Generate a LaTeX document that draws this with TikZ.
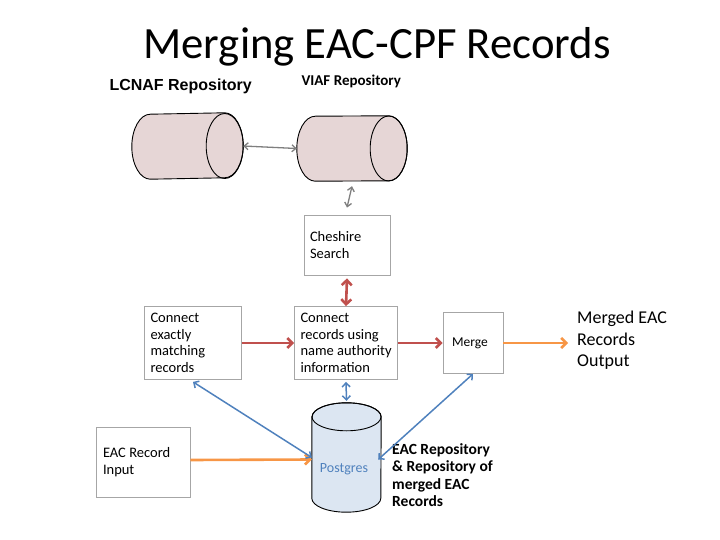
\documentclass[tikz,border=0pt]{standalone}
\usepackage{fontspec}
\setmainfont{Carlito}
\newfontfamily\arialfont{Liberation Sans}
\usetikzlibrary{arrows.meta}
\definecolor{redc}{HTML}{C0504D}
\definecolor{bluec}{HTML}{4F81BD}
\definecolor{orangec}{HTML}{F79646}
\definecolor{grayc}{HTML}{7F7F7F}
\definecolor{pinkfill}{HTML}{E6D6D6}
\definecolor{bluefill}{HTML}{DCE6F2}
\definecolor{boxline}{HTML}{A6A6A6}
\begin{document}
\begin{tikzpicture}[x=1pt,y=-1pt]
      \tikzset{mybox/.style={draw=boxline,fill=white,line width=0.8pt,align=left,inner sep=0pt,text width=#1},
        mybox/.default=70pt,
        cylbody/.style={inner sep=0pt,minimum width=#1},
        cylline/.style={draw=black,line width=0.9pt},
        grayline/.style={grayc,line width=1.3pt,{Straight Barb[length=4pt,width=7pt]}-{Straight Barb[length=4pt,width=7pt]}},
        redline/.style={redc,line width=2.6pt},
        blueline/.style={bluec,line width=1.5pt},
        orangeline/.style={orangec,line width=2.6pt,-{Straight Barb[length=5pt,width=10pt]}}}
      \def\boxfont{\fontsize{14.5}{16.5}\selectfont}
      \def\hrx{18.5pt}
      \def\hry{32.5pt}
      \def\vrx{34.5pt}
      \def\vry{14pt}
      \path[use as bounding box] (0,0) rectangle (720,540);
      % title and repository labels
      \node (title) at (377,47) {\fontsize{44.7}{50}\selectfont Merging EAC-CPF Records};
      \node[anchor=west] (lcnaflabel) at (106,86) {\arialfont\bfseries\fontsize{16}{18}\selectfont LCNAF Repository};
      \node[anchor=west] (viaflabel) at (298,81) {\bfseries\fontsize{15}{18}\selectfont VIAF Repository};
      % repositories
      \node[cylbody=111pt,minimum height=66pt] (lcnaf) at (187.5,146) {};
      \node[cylbody=110pt,minimum height=65pt] (viaf) at (352,148.5) {};
      \foreach \c in {lcnaf,viaf} {
        \filldraw[cylline,fill=pinkfill] ([xshift=-\hrx]\c.north east) arc[start angle=90,end angle=-90,x radius=\hrx,y radius=\hry]
          -- ([xshift=\hrx]\c.south west) arc[start angle=270,end angle=90,x radius=\hrx,y radius=\hry] -- cycle;
        \draw[cylline] ([xshift=-\hrx]\c.east) ellipse[x radius=\hrx,y radius=\hry];
      }
      \node[cylbody=69pt,minimum height=109pt] (pg) at (346.5,457.5) {};
      \filldraw[cylline,fill=bluefill] ([yshift=-\vry]pg.north west) -- ([yshift=\vry]pg.south west)
        arc[start angle=180,end angle=360,x radius=\vrx,y radius=\vry] -- ([yshift=-\vry]pg.north east)
        arc[start angle=0,end angle=180,x radius=\vrx,y radius=\vry] -- cycle;
      \draw[cylline] ([yshift=-\vry]pg.north) ellipse[x radius=\vrx,y radius=\vry];
      \node[text=bluec,font=\fontsize{14}{16}\selectfont] (pglabel) at (344,469) {Postgres};
      % boxes
      \node[mybox=86pt,minimum height=60pt] (cheshire) at (347,245) {\boxfont\hspace*{6pt}\parbox{80pt}{Cheshire\\Search}};
      \node[mybox=97pt,minimum height=73pt] (exact) at (193,343) {\boxfont\hspace*{6pt}\parbox{90pt}{Connect\\exactly\\matching\\records}};
      \node[mybox=103pt,minimum height=73pt] (nameauth) at (346,343) {\boxfont\hspace*{6pt}\parbox{97pt}{Connect\\records using\\name authority\\information}};
      \node[mybox=60pt,minimum height=61pt] (merge) at (473,343) {\fontsize{13.5}{15}\selectfont\hspace*{9pt}Merge};
      \node[mybox=94pt,minimum height=70pt] (input) at (143,462) {\boxfont\hspace*{7pt}\parbox{86pt}{EAC Record\\Input}};
      \coordinate (output) at (568,343);
      % text
      \node[anchor=north west,align=left,inner sep=0pt,font=\fontsize{18}{21.5}\selectfont] (outtext) at (577,311) {Merged EAC\\Records\\Output};
      \node[anchor=north west,align=left,inner sep=0pt,font=\bfseries\fontsize{15.5}{17.5}\selectfont] (pgtext) at (392,443) {EAC Repository\\\& Repository of\\merged EAC\\Records};
      % connectors
      \draw[grayline] (lcnaf.east) -- (viaf.west);
      \draw[grayline] ([yshift=-5pt]viaf.south) -- ([yshift=7pt]cheshire.north);
      \draw[redline,{Straight Barb[length=5pt,width=10pt]}-{Straight Barb[length=5pt,width=10pt]}] ([yshift=-3pt]cheshire.south) -- (nameauth.north);
      \draw[redline,-{Straight Barb[length=5pt,width=10pt]}] (exact.east) -- (nameauth.west);
      \draw[redline,-{Straight Barb[length=5pt,width=10pt]}] (nameauth.east) -- (merge.west);
      \draw[orangeline] (merge.east) -- (output);
      \draw[orangeline] ([yshift=2pt]input.east) -- ([yshift=-2pt]pg.west);
      \draw[blueline,{Straight Barb[length=4pt,width=8pt]}-{Straight Barb[length=4pt,width=8pt]}] ([yshift=-2pt]exact.south) -- (pg.west);
      \draw[blueline,{Straight Barb[length=4pt,width=8pt]}-{Straight Barb[length=4pt,width=8pt]}] ([yshift=-2pt]nameauth.south) -- ([yshift=2pt]pg.north);
      \draw[blueline,{Straight Barb[length=4pt,width=8pt]}-{Straight Barb[length=4pt,width=8pt]}] (merge.south) -- ([yshift=-2pt,xshift=-3pt]pg.east);
\end{tikzpicture}
\end{document}
